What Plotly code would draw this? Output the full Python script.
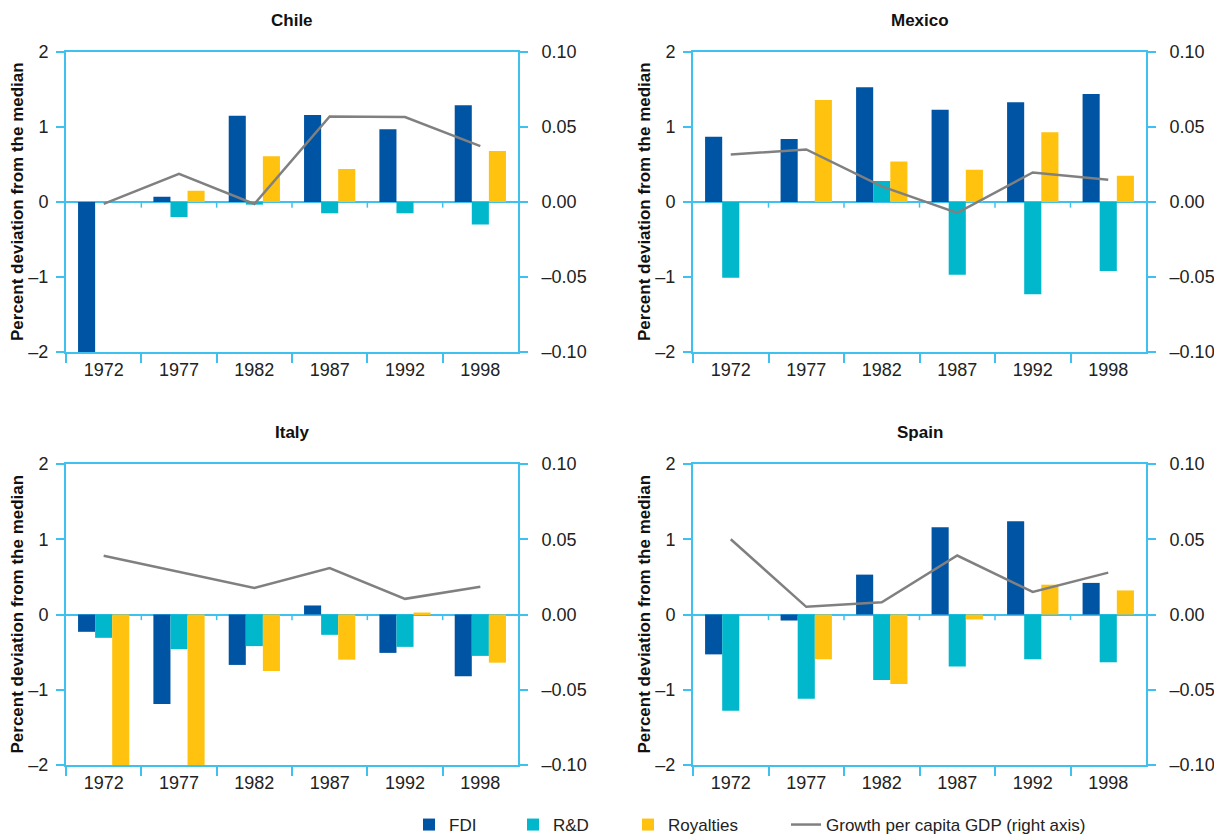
import plotly.graph_objects as go

# ---- data -------------------------------------------------------------
years = ["1972", "1977", "1982", "1987", "1992", "1998"]
countries = ["Chile", "Mexico", "Italy", "Spain"]

chile_fdi = [-2.0, 0.07, 1.15, 1.16, 0.97, 1.29]
chile_rd = [0.0, -0.20, -0.035, -0.15, -0.15, -0.30]
chile_roy = [0.0, 0.15, 0.61, 0.44, 0.0, 0.68]
chile_gdp = [-0.0013, 0.0188, -0.0013, 0.0570, 0.0566, 0.0372]

mexico_fdi = [0.87, 0.84, 1.53, 1.23, 1.33, 1.44]
mexico_rd = [-1.01, 0.0, 0.28, -0.97, -1.23, -0.92]
mexico_roy = [0.0, 1.36, 0.54, 0.43, 0.93, 0.35]
mexico_gdp = [0.0316, 0.0350, 0.0104, -0.0073, 0.0197, 0.0148]

italy_fdi = [-0.23, -1.19, -0.67, 0.12, -0.51, -0.82]
italy_rd = [-0.31, -0.46, -0.42, -0.27, -0.43, -0.55]
italy_roy = [-2.0, -2.0, -0.75, -0.60, 0.026, -0.64]
italy_gdp = [0.0390, 0.0282, 0.0176, 0.0308, 0.0104, 0.0185]

spain_fdi = [-0.53, -0.08, 0.53, 1.16, 1.24, 0.42]
spain_rd = [-1.28, -1.12, -0.87, -0.69, -0.595, -0.635]
spain_roy = [0.0, -0.595, -0.925, -0.066, 0.396, 0.32]
spain_gdp = [0.0500, 0.0051, 0.0081, 0.0392, 0.0150, 0.0278]

left_ticks = [-2, -1, 0, 1, 2]
left_labels = ["–2", "–1", "0", "1", "2"]
right_ticks = [-0.10, -0.05, 0.0, 0.05, 0.10]
right_labels = ["–0.10", "–0.05", "0.00", "0.05", "0.10"]

series_names = ["FDI", "R&D", "Royalties", "Growth per capita GDP (right axis)"]
y_title = "Percent deviation from the median"

panels = {
    "Chile": (chile_fdi, chile_rd, chile_roy, chile_gdp),
    "Mexico": (mexico_fdi, mexico_rd, mexico_roy, mexico_gdp),
    "Italy": (italy_fdi, italy_rd, italy_roy, italy_gdp),
    "Spain": (spain_fdi, spain_rd, spain_roy, spain_gdp),
}

# ---- styling ----------------------------------------------------------
W, H = 1214, 838
C_FDI = "#0054A4"
C_RD = "#00B7CC"
C_ROY = "#FFC20E"
C_GDP = "#808080"
C_AXIS = "#3EC1EF"
FONT = "Liberation Sans"
TXT = "#222222"

# plot-area pixel boxes: (left, right, top, bottom)
boxes = [(66, 518, 52, 352), (693, 1146, 52, 352),
         (66, 518, 464, 765), (693, 1146, 464, 765)]

# one legend per entry so each key sits at its own place along the bottom row
legend_ids = ["legend", "legend2", "legend3", "legend4"]
legend_left_px = [409, 513, 628, 786]
LEGEND_Y_PX = 825

fig = go.Figure()
layout = dict(
    width=W, height=H,
    margin=dict(l=0, r=0, t=0, b=0, autoexpand=False),
    paper_bgcolor="white", plot_bgcolor="white",
    barmode="group", bargap=0.32, bargroupgap=0.0,
    font=dict(family=FONT, size=17, color=TXT),
    showlegend=True,
)
for lid, lx in zip(legend_ids, legend_left_px):
    layout[lid] = dict(orientation="h", x=lx / W, y=1 - LEGEND_Y_PX / H,
                       xanchor="left", yanchor="middle",
                       font=dict(family=FONT, size=17, color=TXT),
                       bgcolor="rgba(0,0,0,0)", borderwidth=0)

annotations = []
shapes = []

for k, name in enumerate(countries, start=1):
    fdi, rd, roy, gdp = panels[name]
    xa = f"x{k}"
    ya = f"y{k}"
    yr = f"y{k + 4}"
    first = k == 1
    for j, (vals, color) in enumerate(((fdi, C_FDI), (rd, C_RD), (roy, C_ROY))):
        label = series_names[j]
        fig.add_trace(go.Bar(x=years, y=vals, name=label, marker_color=color,
                             marker_line_width=0, xaxis=xa, yaxis=ya,
                             legend=legend_ids[j], legendgroup=label,
                             showlegend=first, offsetgroup=label))
    fig.add_trace(go.Scatter(x=years, y=gdp, name=series_names[3], mode="lines",
                             line=dict(color=C_GDP, width=2.5),
                             xaxis=xa, yaxis=yr, legend=legend_ids[3],
                             legendgroup="gdp", showlegend=first))

    l, r, t, b = boxes[k - 1]
    xdom = [l / W, r / W]
    ydom = [1 - b / H, 1 - t / H]
    sfx = "" if k == 1 else str(k)
    layout[f"xaxis{sfx}"] = dict(
        domain=xdom, anchor=ya, type="category",
        categoryorder="array", categoryarray=years,
        range=[-0.5, len(years) - 0.5],
        showline=True, linecolor=C_AXIS, linewidth=2, mirror=True,
        ticks="outside", tickson="boundaries", ticklen=9, tickwidth=1.5,
        tickcolor=C_AXIS, showgrid=False, zeroline=False,
        tickfont=dict(family=FONT, size=18, color=TXT),
        ticklabelstandoff=0,
    )
    layout[f"yaxis{sfx}"] = dict(
        domain=ydom, anchor=xa, range=[-2, 2],
        tickvals=left_ticks, ticktext=left_labels,
        showline=True, linecolor=C_AXIS, linewidth=2,
        ticks="outside", ticklen=8, tickwidth=1.5, tickcolor=C_AXIS,
        showgrid=False, zeroline=True, zerolinecolor=C_AXIS, zerolinewidth=2,
        tickfont=dict(family=FONT, size=18, color=TXT),
        ticklabelstandoff=4,
    )
    layout[f"yaxis{k + 4}"] = dict(
        overlaying=ya, anchor=xa, side="right", range=[-0.10, 0.10],
        tickvals=right_ticks, ticktext=right_labels,
        showline=True, linecolor=C_AXIS, linewidth=2,
        ticks="outside", ticklen=8, tickwidth=1.5, tickcolor=C_AXIS,
        showgrid=False, zeroline=False,
        tickfont=dict(family=FONT, size=18, color=TXT),
        ticklabelstandoff=10,
    )

    # panel title
    annotations.append(dict(text=f"<b>{name}</b>", xref="paper", yref="paper",
                            x=(l + r) / 2 / W, y=1 - (t - 32) / H,
                            xanchor="center", yanchor="middle", showarrow=False,
                            font=dict(family=FONT, size=17, color="#111111")))
    # left axis title
    annotations.append(dict(text=f"<b>{y_title}</b>", xref="paper", yref="paper",
                            x=(l - 49) / W, y=1 - (t + b) / 2 / H, textangle=-90,
                            xanchor="center", yanchor="middle", showarrow=False,
                            font=dict(family=FONT, size=17, color="#111111")))
    # small category-boundary ticks hanging from the zero line
    for i in range(1, len(years)):
        shapes.append(dict(type="line", xref=xa, yref=ya,
                           x0=i - 0.5, x1=i - 0.5, y0=0, y1=-0.075,
                           line=dict(color=C_AXIS, width=1.5)))

layout["annotations"] = annotations
layout["shapes"] = shapes
fig.update_layout(**layout)

fig.write_html("out.html")
